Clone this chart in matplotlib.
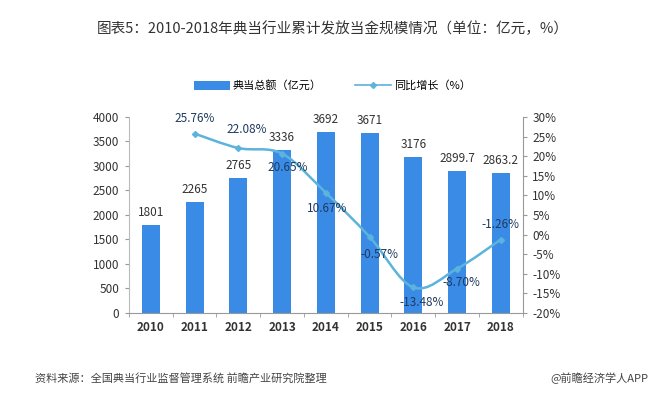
import matplotlib
matplotlib.use("Agg")
import matplotlib.pyplot as plt
from matplotlib.path import Path
from matplotlib.patches import PathPatch
import numpy as np

plt.rcParams['font.family'] = ['Noto Sans CJK SC', 'DejaVu Sans']

years = ['2010', '2011', '2012', '2013', '2014', '2015', '2016', '2017', '2018']
amount = [1801, 2265, 2765, 3336, 3692, 3671, 3176, 2899.7, 2863.2]
amount_labels = ['1801', '2265', '2765', '3336', '3692', '3671', '3176', '2899.7', '2863.2']
growth_years = years[1:]
growth = [25.76, 22.08, 20.65, 10.67, -0.57, -13.48, -8.70, -1.26]
left_ticks = [0, 500, 1000, 1500, 2000, 2500, 3000, 3500, 4000]
right_ticks = [-20, -15, -10, -5, 0, 5, 10, 15, 20, 25, 30]

bar_color = '#3A8BE6'
line_color = '#5CB3DC'
text_color = '#333333'
line_text = '#1F3A60'

fig = plt.figure(figsize=(6.65, 3.93), dpi=100)
ax = fig.add_axes([0.194, 0.2036, 0.592, 0.4987])
x = np.arange(len(years))
bars = ax.bar(x, amount, width=0.41, color=bar_color, label='典当总额（亿元）', zorder=2)
ax.set_xlim(-0.5, len(years) - 0.5)
ax.set_ylim(0, 4000)
ax.set_yticks(left_ticks)
ax.set_yticklabels([str(t) for t in left_ticks], fontsize=8.5, color=text_color)
ax.set_xticks(x)
ax.set_xticklabels(years, fontsize=8.5, color=text_color, fontweight='bold')
ax.tick_params(axis='x', length=0, pad=6)
ax.tick_params(axis='y', length=3, color='#999999', pad=4)
ax.set_xticks(np.arange(-0.5, len(years), 1), minor=True)
ax.tick_params(axis='x', which='minor', length=3, color='#999999')
for s in ['top', 'right']:
    ax.spines[s].set_visible(False)
ax.spines['bottom'].set_color('#999999')
ax.spines['left'].set_color('#bbbbbb')

for xi, v, lab in zip(x, amount, amount_labels):
    ax.text(xi, v + 120, lab, ha='center', va='bottom', fontsize=8.5, color=text_color)

ax2 = ax.twinx()
ax2.set_ylim(-20, 30)
ax2.set_yticks(right_ticks)
ax2.set_yticklabels([f'{t}%' for t in right_ticks], fontsize=8.5, color=text_color)
ax2.tick_params(axis='y', length=3, color='#999999', pad=4)
for s in ['top', 'left', 'bottom']:
    ax2.spines[s].set_visible(False)
ax2.spines['right'].set_color('#999999')

gx = x[1:].astype(float)
gy = np.array(growth, dtype=float)
# smooth curve via cubic Bezier segments (Catmull-Rom control points)
verts = [(gx[0], gy[0])]
codes = [Path.MOVETO]
n = len(gx)
for i in range(n - 1):
    p0 = (gx[max(i - 1, 0)], gy[max(i - 1, 0)])
    p1 = (gx[i], gy[i])
    p2 = (gx[i + 1], gy[i + 1])
    p3 = (gx[min(i + 2, n - 1)], gy[min(i + 2, n - 1)])
    t = 1 / 6
    c1 = (p1[0] + (p2[0] - p0[0]) * t, p1[1] + (p2[1] - p0[1]) * t)
    c2 = (p2[0] - (p3[0] - p1[0]) * t, p2[1] - (p3[1] - p1[1]) * t)
    verts += [c1, c2, p2]
    codes += [Path.CURVE4] * 3
patch = PathPatch(Path(verts, codes), facecolor='none', edgecolor=line_color, lw=1.8, zorder=3)
ax2.add_patch(patch)
ax2.plot(gx, gy, linestyle='none', marker='D', markersize=3, color=line_color, zorder=4)
line_proxy, = ax2.plot([], [], color=line_color, lw=1.2, marker='D', markersize=3, label='同比增长（%）')

offsets = [(0, 11), (6, 13), (4, -10), (1, -11.5),
           (7, -13), (6, -11), (3, -10), (0, 11)]
for xi, yi, (dx, dy) in zip(gx, gy, offsets):
    ax2.annotate(f'{yi:.2f}%', (xi, yi), xytext=(dx, dy), textcoords='offset points',
                 ha='center', va='center', fontsize=8.5, color=line_text, zorder=5)

fig.legend(handles=[bars, line_proxy], loc='center', bbox_to_anchor=(0.5, 0.782), ncol=2,
           frameon=False, fontsize=8, handlelength=3.2, handleheight=0.9, columnspacing=3,
           handletextpad=0.3)

fig.text(0.5, 0.928, '图表5：2010-2018年典当行业累计发放当金规模情况（单位：亿元，%）',
         ha='center', va='center', fontsize=10.5, color='#333333', fontweight='medium')
fig.text(0.052, 0.038, '资料来源：全国典当行业监督管理系统 前瞻产业研究院整理', ha='left', va='center',
         fontsize=8, color='#444444', style='italic')
fig.text(0.975, 0.038, '@前瞻经济学人APP', ha='right', va='center', fontsize=8, color='#444444')

fig.savefig('out.png', dpi=100)
